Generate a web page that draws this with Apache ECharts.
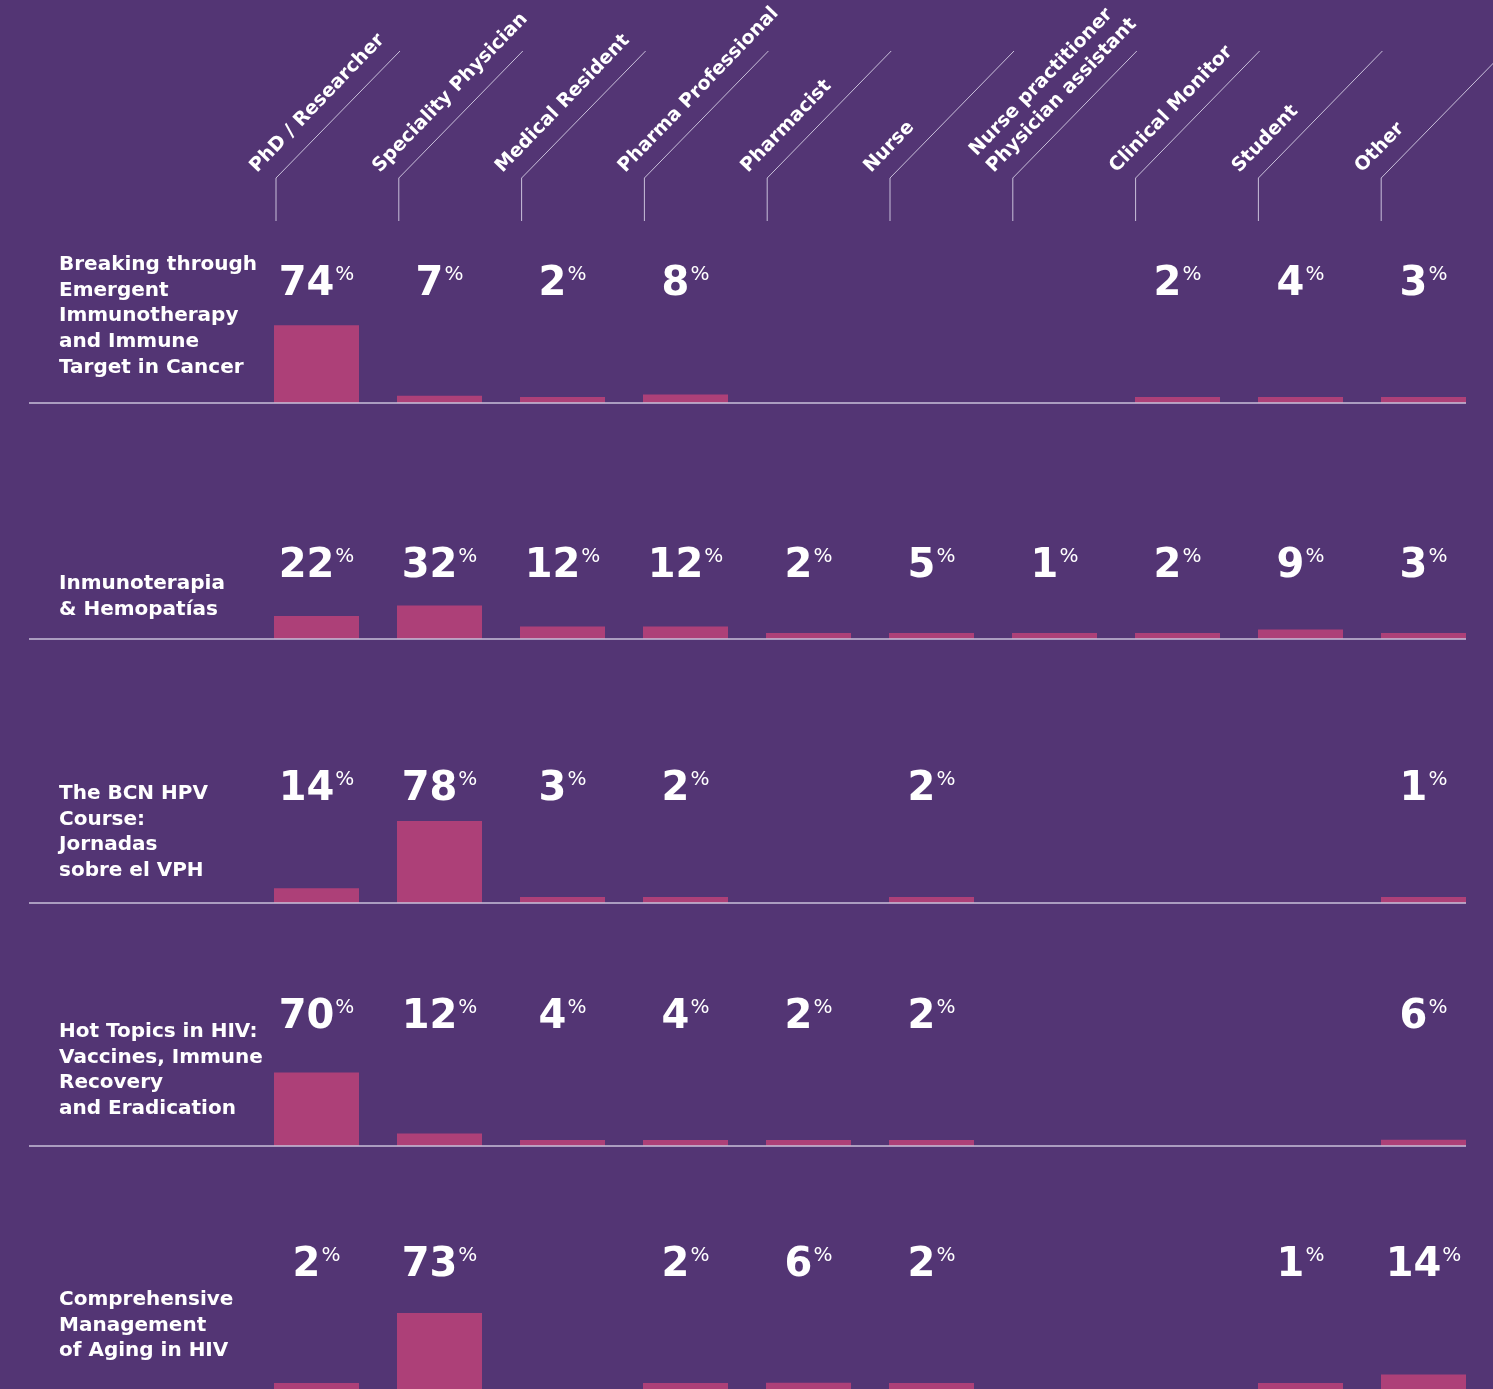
<!DOCTYPE html>
<html>
<head>
<meta charset="utf-8">
<script src="https://cdn.jsdelivr.net/npm/echarts@6/dist/echarts.min.js"></script>
<style>
    html, body {margin: 0; padding: 0; background: #533574;}
    #main {width: 1493px; height: 1389px;}
</style>
</head>
<body>
<div id="main"></div>
<script>
// 列：参会者类别
var categories = ['PhD / Researcher', 'Speciality Physician', 'Medical Resident', 'Pharma Professional',
    'Pharmacist', 'Nurse', 'Nurse practitioner\nPhysician assistant', 'Clinical Monitor', 'Student', 'Other'];
// 行：课程名称
var courses = [
    'Breaking through\nEmergent\nImmunotherapy\nand Immune\nTarget in Cancer',
    'Inmunoterapia\n& Hemopatías',
    'The BCN HPV\nCourse:\nJornadas\nsobre el VPH',
    'Hot Topics in HIV:\nVaccines, Immune\nRecovery\nand Eradication',
    'Comprehensive\nManagement\nof Aging in HIV'
];
// 各课程百分比 (null = 没有)
var breaking = [74, 7, 2, 8, null, null, null, 2, 4, 3];
var inmuno = [22, 32, 12, 12, 2, 5, 1, 2, 9, 3];
var hpv = [14, 78, 3, 2, null, 2, null, null, null, 1];
var hiv = [70, 12, 4, 4, 2, 2, null, null, null, 6];
var aging = [2, 73, null, 2, 6, 2, null, null, 1, 14];
var rows = [breaking, inmuno, hpv, hiv, aging];

// 布局
var rowBase = [403, 639, 903, 1146, 1390];   // 每行底线
var numBottom = [297, 579, 802, 1030, 1279]; // 数字底部
var titleTop = [258, 577, 787, 1025, 1293];  // 行标题顶部
var gridLeft = 255, bandW = 123, gridH = 105;
var font = '"DejaVu Sans", sans-serif';
var lineColor = '#c9c0da';

var myChart = echarts.init(document.getElementById('main'));

var grids = [], xAxes = [], yAxes = [], series = [], graphics = [];
for (var r = 0; r < rows.length; r++) {
    grids.push({left: gridLeft, width: bandW * categories.length, top: rowBase[r] - gridH, height: gridH});
    xAxes.push({
        type: 'category', gridIndex: r, data: categories,
        axisLine: {show: false}, axisTick: {show: false}, axisLabel: {show: false}
    });
    yAxes.push({
        type: 'value', gridIndex: r, min: 0, max: 100,
        axisLine: {show: false}, axisTick: {show: false}, axisLabel: {show: false}, splitLine: {show: false}
    });
    series.push({
        type: 'bar', xAxisIndex: r, yAxisIndex: r,
        data: rows[r], barWidth: 85, barMinHeight: 6,
        itemStyle: {color: '#ad4078'},
        label: {
            show: true,
            position: 'insideBottom',
            distance: 0,
            offset: [0, -(rowBase[r] - numBottom[r] - 8)],
            formatter: function (p) {
                return '{n|' + p.value + '}{p|%}';
            },
            rich: {
                n: {fontFamily: font, fontWeight: 'bold', fontSize: 40, lineHeight: 40, color: '#fff'},
                p: {fontFamily: font, fontSize: 20, lineHeight: 40, color: '#fff', verticalAlign: 'top', padding: [0, 0, 0, 1]}
            }
        }
    });
    // 底线
    graphics.push({
        type: 'line', z: 100,
        shape: {x1: 29, y1: rowBase[r], x2: 1466, y2: rowBase[r]},
        style: {stroke: lineColor, lineWidth: 1.5}
    });
    // 行标题
    graphics.push({
        type: 'text', x: 59, y: titleTop[r] - 6,
        style: {
            text: courses[r], fill: '#fff',
            font: 'bold 20px ' + font, lineHeight: 25.7,
            textAlign: 'left', textVerticalAlign: 'top'
        }
    });
}

// 表头：斜线和类别文字
var rot = 46 * Math.PI / 180;
for (var i = 0; i < categories.length; i++) {
    var vx = 276 + 122.8 * i;
    graphics.push({
        type: 'polyline',
        shape: {points: [[vx, 221], [vx, 178], [vx + 124, 51]]},
        style: {stroke: lineColor, lineWidth: 1, fill: null}
    });
    graphics.push({
        type: 'text', x: vx - 14, y: 178, rotation: rot,
        style: {
            text: categories[i], fill: '#fff',
            font: 'bold 19px ' + font, lineHeight: 24,
            textAlign: 'left', textVerticalAlign: 'bottom'
        }
    });
}

var option = {
    backgroundColor: '#533574',
    animation: false,
    grid: grids,
    xAxis: xAxes,
    yAxis: yAxes,
    series: series,
    graphic: graphics
};
myChart.setOption(option);
</script>
</body>
</html>
